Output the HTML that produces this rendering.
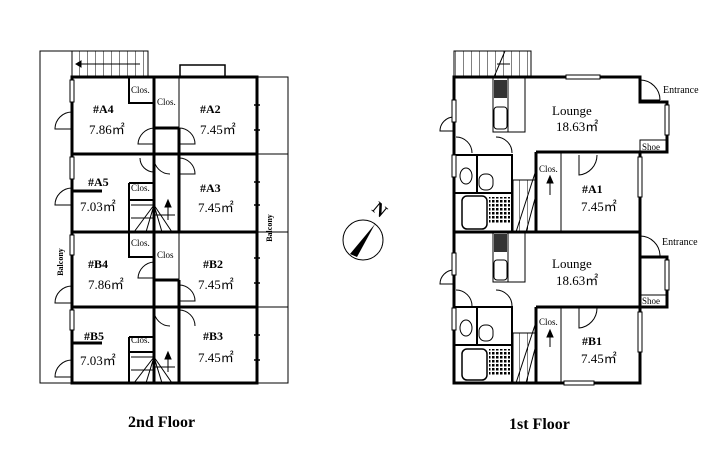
<!DOCTYPE html>
<html><head><meta charset="utf-8"><style>
body{margin:0;background:#fff}
svg{display:block}
text{font-family:"Liberation Serif",serif;fill:#000}
</style></head><body>
<svg width="712" height="454" viewBox="0 0 712 454" xmlns="http://www.w3.org/2000/svg">
<defs>
<pattern id="st" width="8" height="25" patternUnits="userSpaceOnUse"><path d="M8 0V25" stroke="#000" stroke-width="1"/></pattern>
<pattern id="grid" width="4" height="4" patternUnits="userSpaceOnUse"><rect width="4" height="4" fill="#fff"/><rect width="2.5" height="2.5" fill="#000"/></pattern>
</defs>
<g fill="none" stroke="#000">
<!-- ===== 2nd floor ===== -->
<path d="M72 51H40V383H72" stroke-width="1"/>
<path d="M257 77H288V383H257" stroke-width="1"/>
<path d="M257 154H288M257 232H288M257 307H288" stroke-width="1"/>
<rect x="72" y="51" width="76" height="26" fill="url(#st)" stroke-width="1"/>
<path d="M140 64H76" stroke-width="1"/><path d="M76 64l5-3v6z" fill="#000"/>
<path d="M180 77V65H225V77" stroke-width="1.5"/>
<rect x="72" y="77" width="185" height="306" stroke-width="3"/>
<path d="M72 154H257M72 232H257M72 307H257" stroke-width="3"/>
<path d="M154 77V383M179 128V232M179 280V383" stroke-width="3"/>
<path d="M154 128H179M154 280H179" stroke-width="3"/>
<path d="M129 77V103H154M129 103V77" stroke-width="2"/>
<path d="M129 183V232M129 183H154M129 200H154" stroke-width="2"/>
<path d="M129 232V257H154" stroke-width="2"/>
<path d="M129 337V383M129 337H154M129 352H154" stroke-width="2"/>
<path d="M72 191H102M72 343H102" stroke-width="3"/>
<path d="M179 77V128" stroke-width="1"/><path d="M179 232V280" stroke-width="1"/>
<!-- stairs -->
<path d="M131 205H154M131 218H154M154 205l-20 27M154 205l-8 27M154 205l8 27M154 205l18 27M154 215H175" stroke-width="1"/>
<path d="M131 357H154M131 370H154M154 357l-20 26M154 357l-8 26M154 357l8 26M154 357l18 26M154 367H175" stroke-width="1"/>
<path d="M168 220V203" stroke-width="1"/><path d="M168 200l-3 7h6z" fill="#000"/>
<path d="M168 372V355" stroke-width="1"/><path d="M168 352l-3 7h6z" fill="#000"/>
<!-- door arcs 2nd -->
<path d="M72 112a17 17 0 0 0 -17 17H72M72 188a17 17 0 0 0 -17 17H72M72 286a17 17 0 0 0 -17 17H72M72 360a17 17 0 0 0 -17 17H72" stroke-width="1"/>
<path d="M154 128a17 17 0 0 0 -16 16H154M154 158a16 16 0 0 0 16 16M154 262a17 17 0 0 0 -16 16H154M154 310a16 16 0 0 0 16 16" stroke-width="1"/>
<path d="M179 128a16 16 0 0 1 16 16H179M179 158a16 16 0 0 1 16 16H179M179 285a16 16 0 0 1 16 16H179M179 310a16 16 0 0 1 16 16" stroke-width="1"/>
<path d="M140 158a14 14 0 0 0 14 14" stroke-width="1"/>
<!-- windows left -->
<rect x="70" y="80" width="4" height="22" fill="#fff" stroke-width="1"/>
<rect x="70" y="157" width="4" height="22" fill="#fff" stroke-width="1"/>
<rect x="70" y="235" width="4" height="20" fill="#fff" stroke-width="1"/>
<rect x="70" y="310" width="4" height="20" fill="#fff" stroke-width="1"/>
<path d="M254 105H260M254 130H260M254 182H260M254 205H260M254 258H260M254 283H260M254 335H260M254 360H260" stroke-width="1.5"/>
<!-- ===== 1st floor ===== -->
<rect x="454" y="51" width="77" height="26" fill="url(#st)" stroke-width="1"/>
<path d="M494 77L505 51M510 64H497" stroke-width="1"/>
<path d="M454 77H640V102H667V152H640V383H454Z" stroke-width="3"/>
<path d="M454 232H640V257H667V307H640" stroke-width="3"/>
<path d="M454 232V307" stroke-width="3"/>
<path d="M536 152H667M536 152V232M536 307H640M536 307V383" stroke-width="3"/>
<path d="M561 152V232M561 307V383" stroke-width="1"/>
<!-- bath blocks -->
<path d="M454 155H512V232M454 193H512M477 155V193" stroke-width="2"/>
<path d="M454 307H512V383M454 345H512M477 307V345" stroke-width="2"/>
<rect x="462" y="196" width="25" height="33" rx="5" stroke-width="1.5"/>
<rect x="462" y="349" width="25" height="31" rx="5" stroke-width="1.5"/>
<rect x="489" y="197" width="21" height="26" fill="url(#grid)" stroke="none"/>
<rect x="489" y="349" width="21" height="26" fill="url(#grid)" stroke="none"/>
<ellipse cx="466" cy="176" rx="6" ry="8" stroke-width="1"/>
<ellipse cx="466" cy="328" rx="6" ry="8" stroke-width="1"/>
<rect x="479" y="174" width="14" height="16" rx="6" stroke-width="1"/>
<rect x="479" y="325" width="14" height="16" rx="6" stroke-width="1"/>
<!-- kitchens -->
<path d="M493 77V132H525V77M508 77V132" stroke-width="1"/>
<path d="M493 232V282H525V232M508 232V282" stroke-width="1"/>
<rect x="494" y="80" width="13" height="18" fill="#333" stroke="none"/>
<rect x="494" y="234" width="13" height="18" fill="#333" stroke="none"/>
<rect x="494" y="107" width="13" height="22" rx="3" stroke-width="1"/>
<rect x="494" y="260" width="13" height="20" rx="3" stroke-width="1"/>
<!-- stairs 1st -->
<rect x="513" y="180" width="23" height="52" fill="url(#st)" stroke-width="1"/>
<rect x="513" y="333" width="23" height="50" fill="url(#st)" stroke-width="1"/>
<path d="M536 170L516 232M536 195L526 232M536 322L516 383M536 345L526 383" stroke-width="1"/>
<path d="M550 195V180M550 347V333" stroke-width="1"/>
<path d="M550 176l-3 7h6zM550 330l-3 7h6z" fill="#000"/>
<!-- doors 1st -->
<path d="M454 117a14 14 0 0 0 -14 14H454M454 270a14 14 0 0 0 -14 14H454" stroke-width="1"/>
<path d="M456 137a16 16 0 0 1 16 16M496 137a16 16 0 0 1 16 16M456 290a16 16 0 0 1 16 16M496 290a16 16 0 0 1 16 16" stroke-width="1"/>
<path d="M579 155v20a20 20 0 0 0 18 -20M579 308v20a20 20 0 0 0 18 -20" stroke-width="1"/>
<path d="M640 80a20 20 0 0 1 20 20M640 100H660M640 236a20 20 0 0 1 20 20" stroke-width="1"/>
<rect x="566" y="75" width="34" height="4" fill="#fff" stroke-width="1"/>
<rect x="452" y="100" width="4" height="22" fill="#fff" stroke-width="1"/>
<rect x="452" y="155" width="4" height="22" fill="#fff" stroke-width="1"/>
<rect x="452" y="253" width="4" height="22" fill="#fff" stroke-width="1"/>
<rect x="452" y="308" width="4" height="22" fill="#fff" stroke-width="1"/>
<rect x="638" y="157" width="4" height="40" fill="#fff" stroke-width="1"/>
<rect x="638" y="312" width="4" height="40" fill="#fff" stroke-width="1"/>
<rect x="665" y="105" width="4" height="30" fill="#fff" stroke-width="1"/>
<rect x="665" y="260" width="4" height="30" fill="#fff" stroke-width="1"/>
<rect x="564" y="381" width="30" height="4" fill="#fff" stroke-width="1"/>
<rect x="640" y="140" width="27" height="12" stroke-width="1"/>
<rect x="640" y="295" width="27" height="12" stroke-width="1"/>
<!-- compass -->
<circle cx="363" cy="240" r="20" stroke-width="1"/>
</g>
<path d="M350 254L375 224L357 257Z" fill="#000"/>
<text x="376" y="214" font-size="18" font-weight="bold" transform="rotate(40 376 214)" text-anchor="middle">N</text>
<!-- labels 2nd -->
<g font-size="12">
<text x="93" y="113" font-weight="bold">#A4</text><text x="89" y="134" font-size="13">7.86㎡</text>
<text x="200" y="113" font-weight="bold">#A2</text><text x="200" y="134" font-size="13">7.45㎡</text>
<text x="88" y="186" font-weight="bold">#A5</text><text x="80" y="211" font-size="13">7.03㎡</text>
<text x="200" y="192" font-weight="bold">#A3</text><text x="198" y="212" font-size="13">7.45㎡</text>
<text x="88" y="268" font-weight="bold">#B4</text><text x="88" y="289" font-size="13">7.86㎡</text>
<text x="203" y="268" font-weight="bold">#B2</text><text x="198" y="289" font-size="13">7.45㎡</text>
<text x="84" y="340" font-weight="bold">#B5</text><text x="80" y="365" font-size="13">7.03㎡</text>
<text x="203" y="340" font-weight="bold">#B3</text><text x="198" y="362" font-size="13">7.45㎡</text>
<text x="131" y="93" font-size="9">Clos.</text><text x="157" y="105" font-size="9">Clos.</text>
<text x="131" y="191" font-size="9">Clos.</text><text x="131" y="246" font-size="9">Clos.</text>
<text x="157" y="258" font-size="9">Clos</text><text x="131" y="343" font-size="9">Clos.</text>
<text x="63" y="262" font-size="8" font-weight="bold" transform="rotate(-90 63 262)" text-anchor="middle">Balcony</text>
<text x="272" y="228" font-size="8" font-weight="bold" transform="rotate(-90 272 228)" text-anchor="middle">Balcony</text>
<!-- labels 1st -->
<text x="552" y="115" font-size="13">Lounge</text><text x="556" y="131" font-size="13">18.63㎡</text>
<text x="552" y="268" font-size="13">Lounge</text><text x="556" y="285" font-size="13">18.63㎡</text>
<text x="582" y="193" font-weight="bold">#A1</text><text x="581" y="211" font-size="13">7.45㎡</text>
<text x="582" y="345" font-weight="bold">#B1</text><text x="581" y="363" font-size="13">7.45㎡</text>
<text x="539" y="172" font-size="9">Clos.</text><text x="539" y="325" font-size="9">Clos.</text>
<text x="642" y="150" font-size="9">Shoe</text><text x="642" y="304" font-size="9">Shoe</text>
<text x="663" y="93" font-size="10">Entrance</text><text x="662" y="245" font-size="10">Entrance</text>
<text x="128" y="427" font-size="16" font-weight="bold">2nd Floor</text>
<text x="509" y="429" font-size="16" font-weight="bold">1st Floor</text>
</g>
</svg>
</body></html>
